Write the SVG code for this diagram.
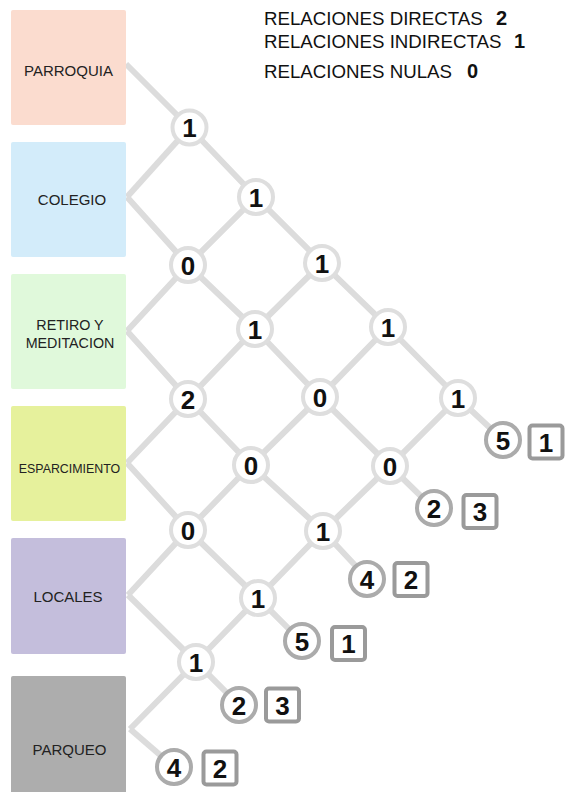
<svg xmlns="http://www.w3.org/2000/svg" width="565" height="792" viewBox="0 0 565 792">
<style>
.lbl{font-family:"Liberation Sans",Arial,sans-serif;fill:#222;text-anchor:middle}
.leg{font-family:"Liberation Sans",Arial,sans-serif;fill:#111;font-size:18.7px}
.legn{font-family:"Liberation Sans",Arial,sans-serif;fill:#111;font-size:20px;font-weight:bold}
.ln{fill:none;stroke:#dcdcdc;stroke-width:6;stroke-linejoin:round}
.nd circle{fill:#fff;stroke:#dedede;stroke-width:4}
.num{font-family:"Liberation Sans",Arial,sans-serif;font-weight:bold;font-size:26px;fill:#111;text-anchor:middle}
.tc{fill:#fff;stroke:#ababab;stroke-width:4}
.ts{fill:#fff;stroke:#9a9a9a;stroke-width:4}
</style>
<rect width="565" height="792" fill="#fff"/>
<g id="legend">
<text class="leg" x="264" y="24.5">RELACIONES DIRECTAS</text><text class="legn" x="496" y="24.5">2</text>
<text class="leg" x="264" y="48">RELACIONES INDIRECTAS</text><text class="legn" x="514" y="48">1</text>
<text class="leg" x="264" y="77.5">RELACIONES NULAS</text><text class="legn" x="467" y="77.5">0</text>
</g>
<g id="connectors">
<path class="ln" d="M126,64 L189.5,127.5 L256,197 L322,263 L388,327 L458,398 L503,440"/>
<path class="ln" d="M127,197 L189.5,127.5"/>
<path class="ln" d="M127,197 L188,265 L255,329 L320,397 L390,466 L433,508"/>
<path class="ln" d="M127,331 L188,265 L256,197"/>
<path class="ln" d="M127,331 L188,399 L251,465 L323,531 L367,578"/>
<path class="ln" d="M127,463 L188,399 L255,329 L322,263"/>
<path class="ln" d="M127,463 L188,530 L258,598 L302,642"/>
<path class="ln" d="M128,595 L188,530 L251,465 L320,397 L388,327"/>
<path class="ln" d="M128,595 L196,662 L239,705"/>
<path class="ln" d="M130,729 L196,662 L258,598 L323,531 L390,466 L458,398"/>
<path class="ln" d="M130,729 L174,767"/>
</g>
<g id="box-parroquia"><rect x="11" y="10" width="115" height="115" rx="2" fill="#fbdccf"/><text class="lbl" x="68.5" y="76" font-size="15">PARROQUIA</text></g>
<g id="box-colegio"><rect x="11" y="142" width="115" height="115" rx="2" fill="#d3ecfa"/><text class="lbl" x="72" y="205" font-size="15">COLEGIO</text></g>
<g id="box-retiro"><rect x="11" y="274" width="115" height="115" rx="2" fill="#e0f9db"/><text class="lbl" x="70" y="330" font-size="14.3">RETIRO Y</text><text class="lbl" x="70" y="348" font-size="14.3">MEDITACION</text></g>
<g id="box-esparcimiento"><rect x="11" y="406" width="115" height="115" rx="2" fill="#e6f19c"/><text class="lbl" x="69.5" y="473" font-size="12.4">ESPARCIMIENTO</text></g>
<g id="box-locales"><rect x="11" y="538" width="115" height="116" rx="2" fill="#c4bedc"/><text class="lbl" x="68" y="602" font-size="15">LOCALES</text></g>
<g id="box-parqueo"><rect x="11" y="676" width="115" height="120" rx="2" fill="#adadad"/><text class="lbl" x="69.5" y="755" font-size="15">PARQUEO</text></g>
<g class="nd" id="n12"><circle cx="189.5" cy="127.5" r="17"/><text class="num" x="189.5" y="137">1</text></g>
<g class="nd" id="n13"><circle cx="256" cy="197" r="17"/><text class="num" x="256" y="206.5">1</text></g>
<g class="nd" id="n23"><circle cx="188" cy="265" r="17"/><text class="num" x="188" y="274.5">0</text></g>
<g class="nd" id="n14"><circle cx="322" cy="263" r="17"/><text class="num" x="322" y="272.5">1</text></g>
<g class="nd" id="n24"><circle cx="255" cy="329" r="17"/><text class="num" x="255" y="338.5">1</text></g>
<g class="nd" id="n34"><circle cx="188" cy="399" r="17"/><text class="num" x="188" y="408.5">2</text></g>
<g class="nd" id="n15"><circle cx="388" cy="327" r="17"/><text class="num" x="388" y="336.5">1</text></g>
<g class="nd" id="n25"><circle cx="320" cy="397" r="17"/><text class="num" x="320" y="406.5">0</text></g>
<g class="nd" id="n35"><circle cx="251" cy="465" r="17"/><text class="num" x="251" y="474.5">0</text></g>
<g class="nd" id="n45"><circle cx="188" cy="530" r="17"/><text class="num" x="188" y="539.5">0</text></g>
<g class="nd" id="n16"><circle cx="458" cy="398" r="17"/><text class="num" x="458" y="407.5">1</text></g>
<g class="nd" id="n26"><circle cx="390" cy="466" r="17"/><text class="num" x="390" y="475.5">0</text></g>
<g class="nd" id="n36"><circle cx="323" cy="531" r="17"/><text class="num" x="323" y="540.5">1</text></g>
<g class="nd" id="n46"><circle cx="258" cy="598" r="17"/><text class="num" x="258" y="607.5">1</text></g>
<g class="nd" id="n56"><circle cx="196" cy="662" r="17"/><text class="num" x="196" y="671.5">1</text></g>
<g id="t1"><circle class="tc" cx="503" cy="440" r="17"/><text class="num" x="503" y="449.5">5</text><rect class="ts" x="529.5" y="425.5" width="33" height="33" rx="3"/><text class="num" x="546" y="451.5">1</text></g>
<g id="t2"><circle class="tc" cx="434" cy="508" r="17"/><text class="num" x="434" y="517.5">2</text><rect class="ts" x="463.5" y="495" width="33" height="33" rx="3"/><text class="num" x="480" y="521">3</text></g>
<g id="t3"><circle class="tc" cx="367" cy="579" r="17"/><text class="num" x="367" y="588.5">4</text><rect class="ts" x="394.5" y="563" width="33" height="33" rx="3"/><text class="num" x="411" y="589">2</text></g>
<g id="t4"><circle class="tc" cx="302" cy="641" r="17"/><text class="num" x="302" y="650.5">5</text><rect class="ts" x="332" y="627" width="33" height="33" rx="3"/><text class="num" x="348.5" y="653">1</text></g>
<g id="t5"><circle class="tc" cx="239" cy="705" r="17"/><text class="num" x="239" y="714.5">2</text><rect class="ts" x="266" y="688.5" width="33" height="33" rx="3"/><text class="num" x="282.5" y="714.5">3</text></g>
<g id="t6"><circle class="tc" cx="174" cy="767" r="17"/><text class="num" x="174" y="776.5">4</text><rect class="ts" x="203.5" y="751.5" width="33" height="33" rx="3"/><text class="num" x="220" y="777.5">2</text></g>
</svg>
